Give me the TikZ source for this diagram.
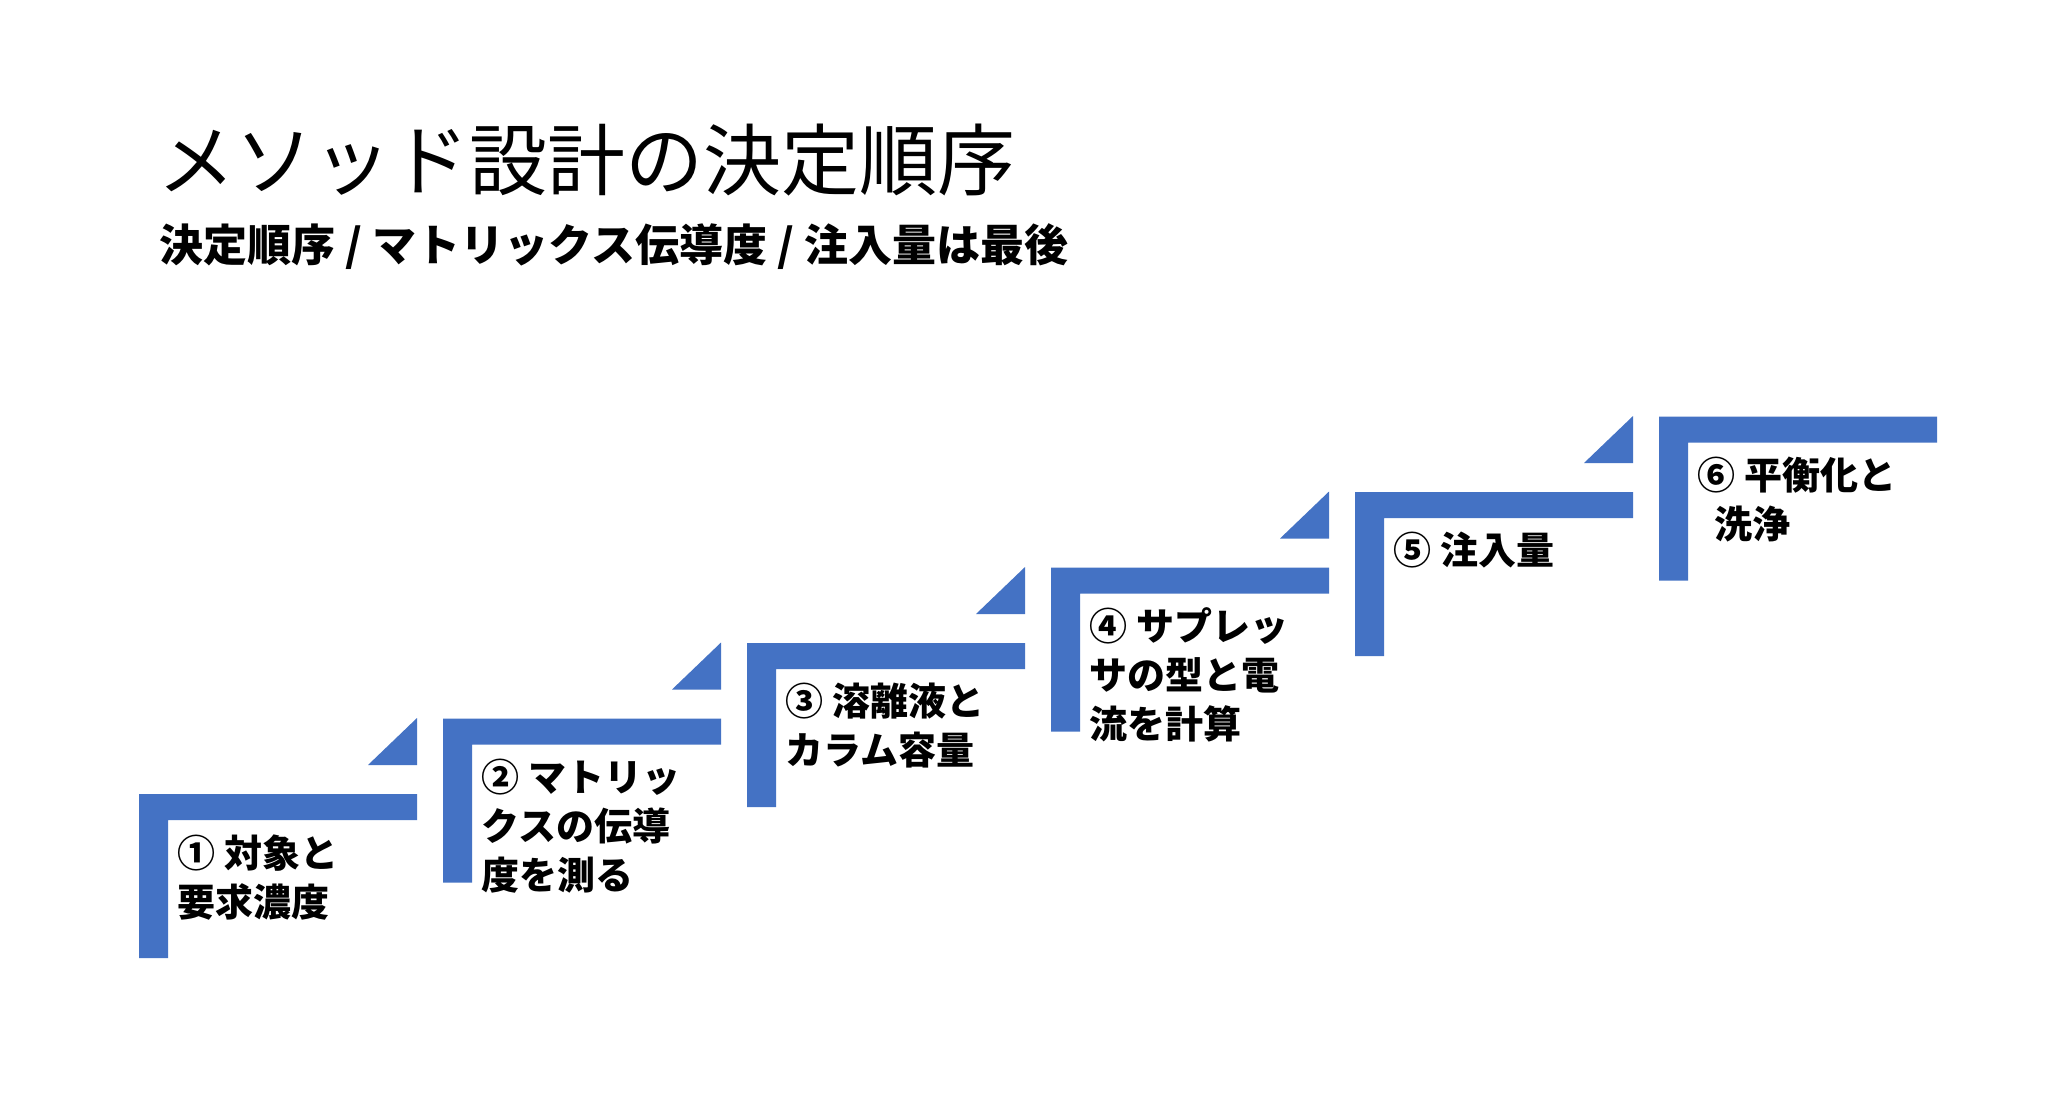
\documentclass[tikz,border=0pt]{standalone}
\usepackage{fontspec}
\newfontfamily\jp{Noto Sans CJK JP}
\definecolor{stepblue}{HTML}{4472C4}
\begin{document}
\begin{tikzpicture}[x=0.5pt,y=-0.5pt,
  lbl/.style={anchor=north west,align=left,inner sep=0pt,font=\jp\bfseries\fontsize{19pt}{24.5pt}\selectfont}]
\useasboundingbox[fill=white] (0,0) rectangle (2064,1101);
\node[anchor=base west,inner sep=0pt,font=\jp\fontsize{39pt}{44pt}\selectfont] (title) at (157,190) {メソッド設計の決定順序};
\node[anchor=base west,inner sep=0pt,font=\jp\bfseries\fontsize{22pt}{26pt}\selectfont] (sub) at (159,262) {決定順序 / マトリックス伝導度 / 注入量は最後};
\foreach \i/\t in {0/{① 対象と\\要求濃度},1/{② マトリッ\\クスの伝導\\度を測る},2/{③ 溶離液と\\カラム容量},3/{④ サプレッ\\サの型と電\\流を計算},4/{⑤ 注入量},5/{⑥ 平衡化と\\\ \ 洗浄}}{
  \pgfmathsetmacro\xa{139+304*\i}
  \pgfmathsetmacro\ya{794-75.5*\i}
  \pgfmathsetmacro\xr{\xa+278}
  \fill[stepblue] (\xa,\ya+164) -- (\xa,\ya) -- (\xr,\ya) -- (\xr,\ya+26) -- (\xa+29,\ya+26) -- (\xa+29,\ya+164) -- cycle;
  \ifnum\i<5
    \fill[stepblue] (\xr-49,\ya-29) -- (\xr,\ya-29) -- (\xr,\ya-76) -- cycle;
  \fi
  \node[lbl] (s\i) at (\xa+38,\ya+40) {\t};
}
\end{tikzpicture}
\end{document}
